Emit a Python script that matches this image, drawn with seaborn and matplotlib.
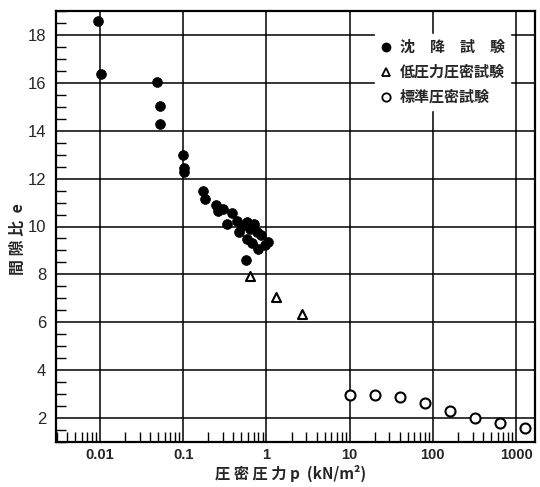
import matplotlib
matplotlib.use("Agg")
import matplotlib.pyplot as plt
from matplotlib.ticker import FixedLocator, FixedFormatter, NullFormatter, MultipleLocator
from matplotlib.lines import Line2D
import pandas as pd
import seaborn as sns

# 沈降試験
settle_p = [0.0095, 0.0103, 0.048, 0.053, 0.052, 0.100, 0.102, 0.101,
            0.172, 0.180, 0.246, 0.258, 0.300, 0.387, 0.338, 0.443,
            0.510, 0.465, 0.580, 0.630, 0.710, 0.580, 0.670, 0.760,
            0.870, 0.800, 0.950, 1.030, 0.560]
settle_e = [18.57, 16.38, 16.05, 15.05, 14.29, 13.00, 12.45, 12.27,
            11.48, 11.14, 10.89, 10.65, 10.72, 10.58, 10.10, 10.23,
            10.03, 9.76, 10.17, 9.89, 10.10, 9.47, 9.33, 9.77,
            9.63, 9.08, 9.22, 9.36, 8.60]
# 低圧力圧密試験
lowp_p = [0.64, 1.31, 2.68]
lowp_e = [7.95, 7.07, 6.35]
# 標準圧密試験
std_p = [10, 20, 40, 80, 160, 320, 640, 1280]
std_e = [2.95, 2.97, 2.90, 2.64, 2.31, 2.00, 1.80, 1.60]

series_labels = ["沈　降　試　験", "低圧力圧密試験", "標準圧密試験"]
x_ticks = [0.01, 0.1, 1, 10, 100, 1000]
x_ticklabels = ["0.01", "0.1", "1", "10", "100", "1000"]
y_ticks = [2, 4, 6, 8, 10, 12, 14, 16, 18]
y_ticklabels = ["2", "4", "6", "8", "10", "12", "14", "16", "18"]

sns.set_theme(style="ticks")
cjk = ["Noto Sans CJK JP", "DejaVu Sans"]
plt.rcParams["font.family"] = cjk

settle = pd.DataFrame({"p": settle_p, "e": settle_e})
lowp = pd.DataFrame({"p": lowp_p, "e": lowp_e})
std = pd.DataFrame({"p": std_p, "e": std_e})

fig = plt.figure(figsize=(5.40, 4.87), dpi=100)
ax = fig.add_axes([56 / 540, 1 - 442 / 487, (535 - 56) / 540, (442 - 11) / 487])

sns.scatterplot(data=settle, x="p", y="e", ax=ax, marker="o", s=50,
                color="black", edgecolor="black", linewidth=0.5, zorder=4)
sns.scatterplot(data=lowp, x="p", y="e", ax=ax, marker="^", s=42,
                facecolor="white", edgecolor="black", linewidth=1.5, zorder=4)
sns.scatterplot(data=std, x="p", y="e", ax=ax, marker="o", s=52,
                facecolor="white", edgecolor="black", linewidth=1.5, zorder=4)

ax.set_xscale("log")
ax.set_xlim(0.00295, 1690)
ax.set_ylim(1.0, 19.0)

ax.xaxis.set_major_locator(FixedLocator(x_ticks))
ax.xaxis.set_major_formatter(FixedFormatter(x_ticklabels))
ax.xaxis.set_minor_formatter(NullFormatter())
ax.yaxis.set_major_locator(FixedLocator(y_ticks))
ax.yaxis.set_major_formatter(FixedFormatter(y_ticklabels))
ax.yaxis.set_minor_locator(MultipleLocator(0.5))

ax.grid(True, which="major", color="black", linewidth=1.1)
ax.set_axisbelow(True)
for side in ax.spines.values():
    side.set_color("black")
    side.set_linewidth(1.6)

ax.tick_params(axis="both", which="both", direction="in", color="black",
               top=False, right=False)
ax.tick_params(axis="both", which="major", length=0, width=1.0)
ax.tick_params(axis="both", which="minor", length=7, width=1.0)
ax.tick_params(axis="x", which="major", pad=4)
ax.tick_params(axis="y", which="major", pad=7)
for lab in ax.get_xticklabels():
    lab.set_fontfamily(["Liberation Sans", "DejaVu Sans"])
    lab.set_fontsize(10.5)
    lab.set_fontweight("bold")
for lab in ax.get_yticklabels():
    lab.set_fontfamily(["Liberation Sans", "DejaVu Sans"])
    lab.set_fontsize(12)

ax.set_xlabel("圧 密 圧 力 p  (kN/m²)", fontsize=11, fontweight="bold",
              family=cjk)
ax.set_ylabel("間 隙 比  e", fontsize=11.5, fontweight="bold", family=cjk)
ax.xaxis.set_label_coords(0.49, -0.052)
ax.yaxis.set_label_coords(-0.062, 0.47)

handles = [
    Line2D([], [], linestyle="none", marker="o", markersize=6,
           markerfacecolor="black", markeredgecolor="black"),
    Line2D([], [], linestyle="none", marker="^", markersize=6,
           markerfacecolor="white", markeredgecolor="black", markeredgewidth=1.3),
    Line2D([], [], linestyle="none", marker="o", markersize=6,
           markerfacecolor="white", markeredgecolor="black", markeredgewidth=1.3),
]
leg = ax.legend(handles, series_labels, loc="upper left",
                bbox_to_anchor=(0.65, 0.965), frameon=True, fancybox=False,
                framealpha=1, edgecolor="white", facecolor="white",
                handlelength=0.8, handletextpad=0.5, labelspacing=0.6,
                borderpad=0.35, prop={"family": cjk, "size": 10.8, "weight": "bold"})
leg.set_zorder(5)

fig.savefig("out.png", dpi=100)
